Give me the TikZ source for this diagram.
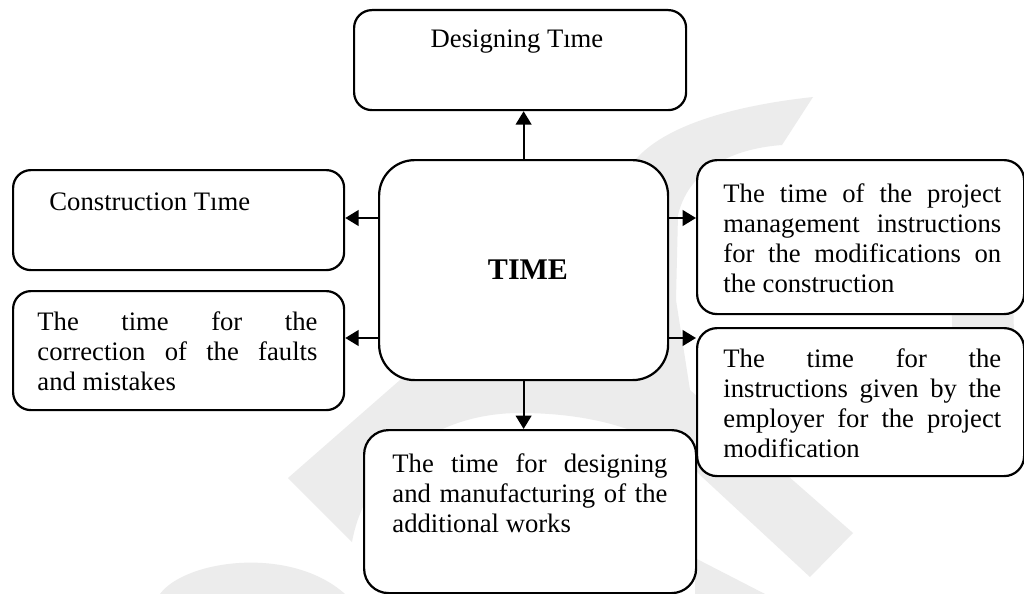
\documentclass[tikz,border=0pt]{standalone}
\usepackage{fontspec}
\setmainfont{Liberation Serif}
\usetikzlibrary{arrows.meta}
% one drawing unit = one pixel of a 1024 x 594 canvas
\newcommand\pxu{0.45pt}
% a line spread to the full column width (justified)
\newcommand\jline[2]{\makebox[#1][s]{#2}}
% lines stacked at the baseline skip, first baseline on the node base
\newcommand\linestack[1]{\begin{tabular}[t]{@{}l@{}}#1\end{tabular}}
\definecolor{wmgray}{RGB}{236,236,236}

\begin{document}
\begin{tikzpicture}[x=0.45pt,y=-0.45pt,
  every node/.style={font=\fontsize{12}{13.5}\selectfont},
  box/.style={draw=black, line width=1pt, fill=white, rounded corners=#1,
    inner sep=0pt, anchor=north west},
  txt/.style={inner sep=0pt},
  arr/.style={line width=1pt, -{Triangle[length=6pt,width=7pt]}}]

\useasboundingbox (0,0) rectangle (1024,594);
\fill[white] (0,0) rectangle (1024,594);

% faint background mark
\fill[wmgray] (288,478) -- (352,542)
  .. controls (365,470) and (430,413) .. (520,413)
  .. controls (610,413) and (670,440) .. (700,475)
  -- (810,577) -- (853,533) -- (690,390) -- (676,300) -- (678,215)
  .. controls (690,165) and (740,148) .. (782,145) -- (813,97)
  .. controls (740,105) and (650,125) .. (625,175)
  -- (615,240) -- (480,300) -- (400,380) -- cycle;
\fill[wmgray] (950,250) -- (1012,250) -- (1016,420) -- (955,420) -- cycle;
\fill[wmgray] (160,594) .. controls (185,560) and (290,545) .. (345,594) -- cycle;
\fill[wmgray] (695,558) -- (765,594) -- (695,594) -- cycle;

% boxes
\node[box=8pt,  minimum width=332*\pxu, minimum height=100*\pxu] (top) at (353,9) {};
\node[box=16pt, minimum width=289*\pxu, minimum height=220*\pxu] (ctr) at (378,159) {};
\node[box=8pt,  minimum width=331*\pxu, minimum height=100*\pxu] (lc)  at (12,169) {};
\node[box=8pt,  minimum width=331*\pxu, minimum height=119*\pxu] (lf)  at (12,290) {};
\node[box=9pt,  minimum width=327*\pxu, minimum height=154*\pxu] (rm)  at (696,159) {};
\node[box=9pt,  minimum width=327*\pxu, minimum height=148*\pxu] (re)  at (696,327) {};
\node[box=11pt, minimum width=332*\pxu, minimum height=163*\pxu] (bot) at (363,429) {};

% connectors
\coordinate (yA) at (0,218);
\coordinate (yB) at (0,338);
\draw[arr] (ctr.north) -- (ctr.north |- top.south);
\draw[arr] (ctr.south) -- (ctr.south |- bot.north);
\draw[arr] (ctr.west |- yA) -- (lc.east |- yA);
\draw[arr] (ctr.west |- yB) -- (lf.east |- yB);
\draw[arr] (ctr.east |- yA) -- (rm.west |- yA);
\draw[arr] (ctr.east |- yB) -- (re.west |- yB);

% texts
\node[txt, anchor=base] (ttop) at (517,48) {Designing Tıme};
\node[txt, anchor=base, font=\fontsize{13.5}{15}\selectfont\bfseries] (tctr) at (528,279) {TIME};
\node[txt, anchor=base west] (tlc) at (49,210) {Construction Tıme};
\node[txt, anchor=base west] (tlf) at (37,330) {\linestack{%
  \jline{126pt}{The time for the}\\
  \jline{126pt}{correction of the faults}\\
  and mistakes}};
\node[txt, anchor=base west] (trm) at (723,202) {\linestack{%
  \jline{125pt}{The time of the project}\\
  \jline{125pt}{management instructions}\\
  \jline{125pt}{for the modifications on}\\
  the construction}};
\node[txt, anchor=base west] (tre) at (723,367) {\linestack{%
  \jline{125pt}{The time for the}\\
  \jline{125pt}{instructions given by the}\\
  \jline{125pt}{employer for the project}\\
  modification}};
\node[txt, anchor=base west] (tbot) at (392,472) {\linestack{%
  \jline{123.75pt}{The time for designing}\\
  \jline{123.75pt}{and manufacturing of the}\\
  additional works}};
\end{tikzpicture}
\end{document}
